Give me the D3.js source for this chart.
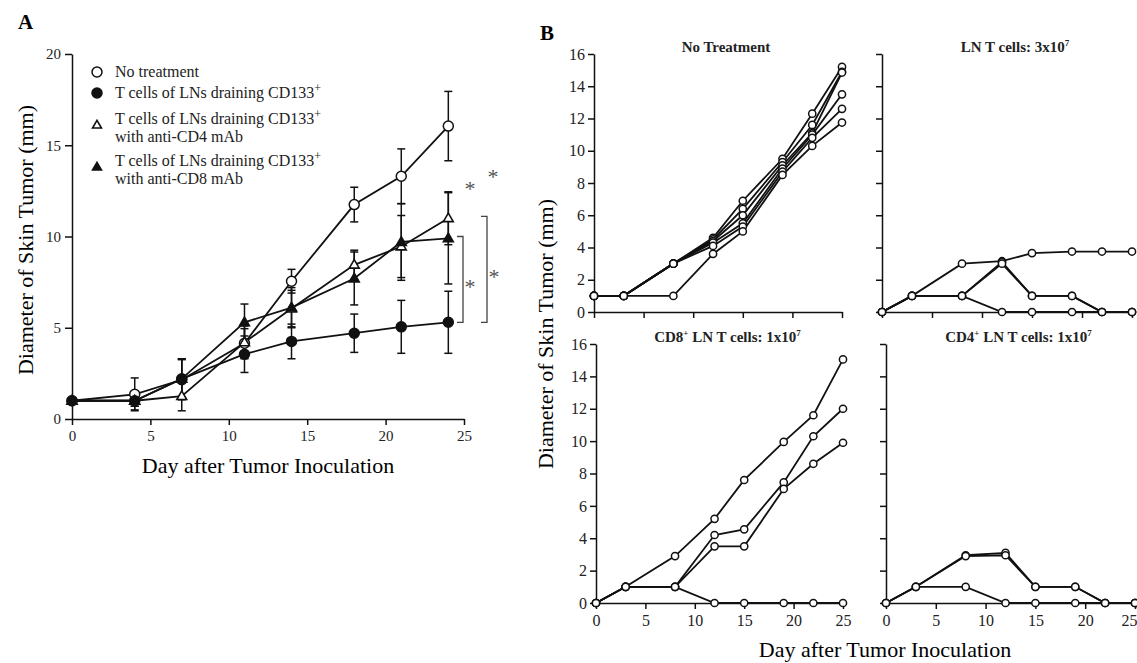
<!DOCTYPE html>
<html>
<head>
<meta charset="utf-8">
<script src="https://cdn.jsdelivr.net/npm/d3@7"></script>
<style>
  body { margin: 0; background: #fff; }
  svg { font-family: "Liberation Serif", serif; }
  .axis path, .axis line { stroke: #111; stroke-width: 1.5; }
  .axis text { fill: #222; }
</style>
</head>
<body>
<div id="chart"></div>
<script>
// ---- Panel A data ----
var daysA = [0, 4, 7, 11, 14, 18, 21, 24];
var noTreat    = [1.0, 1.35, 2.15, 4.15, 7.55, 11.75, 13.3, 16.05];
var noTreatErr = [0, 0.9, 1.1, 0.8, 0.65, 0.95, 1.5, 1.9];
var tCells     = [1.0, 1.0, 2.2, 3.55, 4.25, 4.7, 5.05, 5.3];
var tCellsErr  = [0, 0.5, 1.1, 1.0, 0.95, 1.05, 1.45, 1.7];
var antiCD4    = [1.0, 1.0, 1.25, 4.2, 6.05, 8.45, 9.45, 11.0];
var antiCD4Err = [0, 0.3, 0.8, 0.9, 1.0, 0.8, 1.7, 1.45];
var antiCD8    = [1.0, 1.0, 2.2, 5.3, 6.1, 7.7, 9.7, 9.9];
var antiCD8Err = [0, 0.3, 1.1, 1.0, 1.1, 1.45, 2.1, 2.5];
var ticksA_x = [0, 5, 10, 15, 20, 25];
var ticksA_y = [0, 5, 10, 15, 20];

// ---- Panel B data (individual mice) ----
var daysB = [0, 3, 8, 12, 15, 19, 22, 25];
var noTx = [
  [1, 1, 3, 4.6, 6.9, 9.5, 12.3, 15.2],
  [1, 1, 3, 4.5, 6.4, 9.3, 11.6, 14.9],
  [1, 1, 3, 4.4, 6.0, 9.1, 11.1, 14.85],
  [1, 1, 3, 4.3, 5.5, 8.9, 11.0, 13.5],
  [1, 1, 3, 4.1, 5.3, 8.7, 10.8, 12.6],
  [1, 1, 1, 3.6, 5.0, 8.5, 10.3, 11.75]
];
var ln3e7 = [
  [0, 1, 3, 3.15, 3.65, 3.75, 3.75, 3.75],
  [0, 1, 1, 3.1, 1, 1, 0, 0],
  [0, 1, 1, 3.0, 1, 1, 0, 0],
  [0, 1, 1, 0, 0, 0, 0, 0]
];
var cd8ln = [
  [0, 1, 2.9, 5.2, 7.6, 9.95, 11.6, 15.05],
  [0, 1, 1, 4.2, 4.55, 7.45, 10.3, 12.0],
  [0, 1, 1, 3.5, 3.5, 7.05, 8.6, 9.9],
  [0, 1, 1, 0, 0, 0, 0, 0]
];
var cd4ln = [
  [0, 1, 2.95, 3.1, 1, 1, 0, 0],
  [0, 1, 2.9, 2.95, 1, 1, 0, 0],
  [0, 1, 1, 0, 0, 0, 0, 0]
];
var ticksB_x = [0, 5, 10, 15, 20, 25];
var ticksB_y = [0, 2, 4, 6, 8, 10, 12, 14, 16];

var svg = d3.select("#chart").append("svg")
  .attr("width", 1137)
  .attr("height", 663);

// ================= Panel A =================
var xA = d3.scaleLinear().domain([0, 25]).range([72, 464]);
var yA = d3.scaleLinear().domain([0, 20]).range([419, 54]);

svg.append("text").attr("x", 18).attr("y", 29)
  .attr("font-size", 21).attr("font-weight", "bold").text("A");

svg.append("g").attr("class", "axis")
  .attr("transform", "translate(0,419)")
  .call(d3.axisBottom(xA).tickValues(ticksA_x).tickSize(6).tickSizeOuter(0).tickPadding(5))
  .selectAll("text").attr("font-size", 15).attr("font-family", "Liberation Serif");

svg.append("g").attr("class", "axis")
  .attr("transform", "translate(72,0)")
  .call(d3.axisLeft(yA).tickValues(ticksA_y).tickSize(7).tickSizeOuter(0).tickPadding(4))
  .selectAll("text").attr("font-size", 15).attr("font-family", "Liberation Serif");

svg.append("text")
  .attr("x", xA(12.5)).attr("y", 473)
  .attr("text-anchor", "middle").attr("font-size", 22)
  .text("Day after Tumor Inoculation");

svg.append("text")
  .attr("transform", "translate(33,240) rotate(-90)")
  .attr("text-anchor", "middle").attr("font-size", 22)
  .text("Diameter of Skin Tumor (mm)");

var groupsA = [
  { vals: noTreat, err: noTreatErr, shape: "circle", fill: "#fff" },
  { vals: tCells, err: tCellsErr, shape: "circle", fill: "#111" },
  { vals: antiCD4, err: antiCD4Err, shape: "triangle", fill: "#fff" },
  { vals: antiCD8, err: antiCD8Err, shape: "triangle", fill: "#111" }
];

var lineA = d3.line().x(d => xA(d[0])).y(d => yA(d[1]));

groupsA.forEach(function(g) {
  var pts = daysA.map((d, i) => [d, g.vals[i], g.err[i]]);
  svg.append("path")
    .attr("d", lineA(pts))
    .attr("fill", "none").attr("stroke", "#111").attr("stroke-width", 1.8);
  // error bars
  var eb = svg.append("g").attr("stroke", "#111").attr("stroke-width", 1.5);
  pts.filter(p => p[2] > 0).forEach(function(p) {
    var cx = xA(p[0]);
    eb.append("line").attr("x1", cx).attr("x2", cx)
      .attr("y1", yA(p[1] - p[2])).attr("y2", yA(p[1] + p[2]));
    [p[1] - p[2], p[1] + p[2]].forEach(function(v) {
      eb.append("line").attr("x1", cx - 4).attr("x2", cx + 4)
        .attr("y1", yA(v)).attr("y2", yA(v));
    });
  });
});

function drawMarker(sel, shape, fill, x, y, size) {
  if (shape === "circle") {
    sel.append("circle").attr("cx", x).attr("cy", y).attr("r", size)
      .attr("fill", fill).attr("stroke", "#111").attr("stroke-width", 1.5);
  } else {
    sel.append("path")
      .attr("d", d3.symbol(d3.symbolTriangle, size * size * 1.7)())
      .attr("transform", "translate(" + x + "," + (y + 0.5) + ")")
      .attr("fill", fill).attr("stroke", "#111").attr("stroke-width", 1.6);
  }
}

groupsA.forEach(function(g) {
  daysA.forEach(function(d, i) {
    drawMarker(svg, g.shape, g.fill, xA(d), yA(g.vals[i]), 5);
  });
});

// legend
var legendA = [
  { shape: "circle", fill: "#fff", lines: ["No treatment"], y: 72 },
  { shape: "circle", fill: "#111", lines: ["T cells of LNs draining CD133"], y: 93 },
  { shape: "triangle", fill: "#fff", lines: ["T cells of LNs draining CD133", "with anti-CD4 mAb"], y: 119 },
  { shape: "triangle", fill: "#111", lines: ["T cells of LNs draining CD133", "with anti-CD8 mAb"], y: 161 }
];
legendA.forEach(function(l) {
  var my = l.lines.length > 1 ? l.y + 6 : l.y;
  drawMarker(svg, l.shape, l.fill, 97, my, l.shape === "circle" ? 5 : 4.5);
  l.lines.forEach(function(t, j) {
    var tx = svg.append("text").attr("x", 115).attr("y", l.y + 5 + j * 18)
      .attr("font-size", 16).attr("fill", "#222").text(t);
    if (t.indexOf("CD133") >= 0) {
      tx.append("tspan").attr("dy", -6).attr("font-size", 12).text("+");
    }
  });
});

// significance brackets
var br = svg.append("g").attr("stroke", "#444").attr("stroke-width", 1.3).attr("fill", "none");
function bracket(x, v1, v2) {
  br.append("path").attr("d",
    "M" + (x - 6) + "," + yA(v1) + "H" + x + "V" + yA(v2) + "H" + (x - 6));
}
bracket(463, 10.0, 5.3);
bracket(487, 11.1, 5.3);
[[470, 283], [494, 273], [470, 185], [493, 173]].forEach(function(s) {
  svg.append("text").attr("x", s[0]).attr("y", s[1] + 11)
    .attr("text-anchor", "middle").attr("font-size", 22).attr("fill", "#555").text("*");
});

// ================= Panel B =================
svg.append("text").attr("x", 540).attr("y", 40)
  .attr("font-size", 21).attr("font-weight", "bold").text("B");

var panelsB = [
  { data: noTx, x0: 594, x1: 842, y0: 312, y1: 54, title: ["No Treatment"], ylab: true, xlab: false },
  { data: ln3e7, x0: 882, x1: 1132, y0: 312, y1: 54, title: ["LN T cells: 3x10", "7"], ylab: false, xlab: false },
  { data: cd8ln, x0: 596, x1: 843, y0: 603, y1: 344, title: ["CD8", "+", " LN T cells: 1x10", "7"], ylab: true, xlab: true },
  { data: cd4ln, x0: 886, x1: 1135, y0: 603, y1: 344, title: ["CD4", "+", " LN T cells: 1x10", "7"], ylab: false, xlab: true }
];

panelsB.forEach(function(p) {
  var x = d3.scaleLinear().domain([0, 25]).range([p.x0, p.x1]);
  var y = d3.scaleLinear().domain([0, 16]).range([p.y0, p.y1]);

  var gx = svg.append("g").attr("class", "axis")
    .attr("transform", "translate(0," + p.y0 + ")")
    .call(d3.axisBottom(x).tickValues(ticksB_x).tickSize(6).tickSizeOuter(0).tickPadding(6)
      .tickFormat(p.xlab ? d3.format("d") : ""));
  gx.selectAll("text").attr("font-size", 16).attr("font-family", "Liberation Serif");
  // keep the last label inside the page edge
  gx.selectAll("text").filter(function() {
    var t = this.parentNode.getAttribute("transform");
    return +t.match(/translate\(([\d.]+)/)[1] > 1125;
  }).attr("text-anchor", "end").attr("x", 1137 - p.x1);

  var gy = svg.append("g").attr("class", "axis")
    .attr("transform", "translate(" + p.x0 + ",0)")
    .call(d3.axisLeft(y).tickValues(ticksB_y).tickSize(6).tickSizeOuter(0).tickPadding(3)
      .tickFormat(p.ylab ? d3.format("d") : ""));
  gy.selectAll("text").attr("font-size", 16).attr("font-family", "Liberation Serif");

  var t = svg.append("text")
    .attr("x", (p.x0 + p.x1) / 2 + 8).attr("y", p.y1 - 2)
    .attr("text-anchor", "middle").attr("font-size", 15).attr("font-weight", "bold")
    .attr("fill", "#222");
  p.title.forEach(function(s, i) {
    var sup = (s === "+" || s === "7");
    var ts = t.append("tspan").attr("font-size", sup ? 9 : 15).text(s);
    if (sup) ts.attr("dy", -6);
    else if (i > 0) ts.attr("dy", 6);
  });

  var line = d3.line().x((d, i) => x(daysB[i])).y(d => y(d));
  p.data.forEach(function(s) {
    svg.append("path").attr("d", line(s))
      .attr("fill", "none").attr("stroke", "#111").attr("stroke-width", 1.8);
  });
  p.data.forEach(function(s) {
    s.forEach(function(v, i) {
      svg.append("circle").attr("cx", x(daysB[i])).attr("cy", y(v)).attr("r", 3.6)
        .attr("fill", "#fff").attr("stroke", "#111").attr("stroke-width", 1.5);
    });
  });
});

svg.append("text")
  .attr("x", 885).attr("y", 657)
  .attr("text-anchor", "middle").attr("font-size", 22)
  .text("Day after Tumor Inoculation");

svg.append("text")
  .attr("transform", "translate(553,334) rotate(-90)")
  .attr("text-anchor", "middle").attr("font-size", 22)
  .text("Diameter of Skin Tumor (mm)");
</script>
</body>
</html>
